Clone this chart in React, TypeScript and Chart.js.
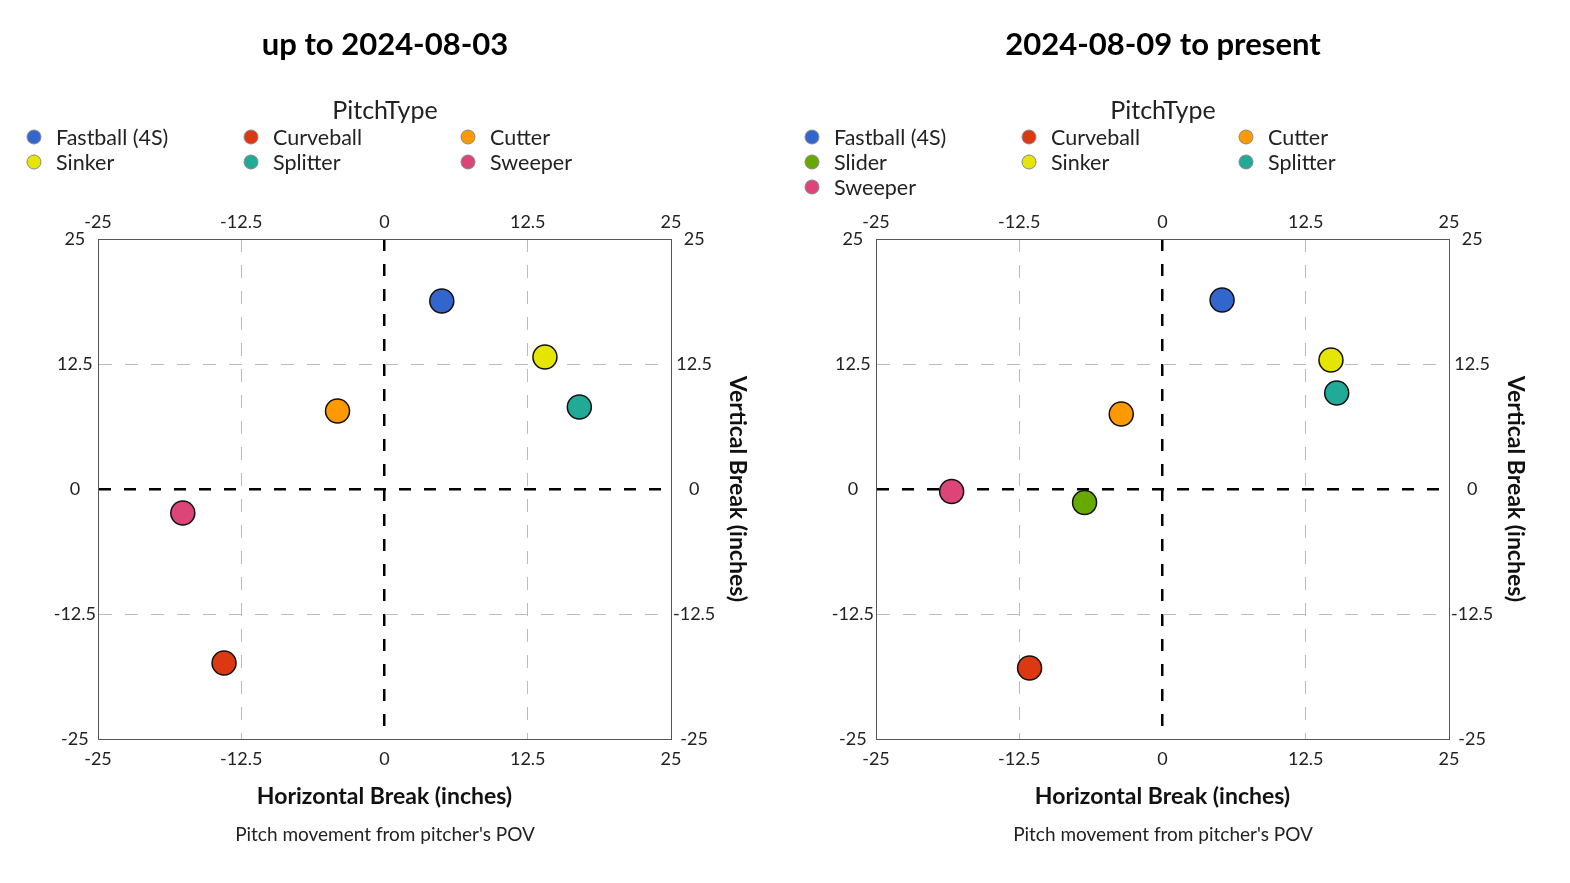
import React, { useEffect, useRef } from "react";
import { Chart, registerables } from "chart.js";
Chart.register(...registerables);

const FONT = "Lato, 'Open Sans', sans-serif";

const leftTitle = "up to 2024-08-03";
const leftTypes = ["Fastball (4S)", "Curveball", "Cutter", "Sinker", "Splitter", "Sweeper"];
const leftX = [5.0, -14.0, -4.1, 14.0, 17.0, -17.6];
const leftY = [18.8, -17.4, 7.8, 13.2, 8.2, -2.4];

const rightTitle = "2024-08-09 to present";
const rightTypes = ["Fastball (4S)", "Curveball", "Cutter", "Slider", "Sinker", "Splitter", "Sweeper"];
const rightX = [5.2, -11.6, -3.6, -6.8, 14.7, 15.2, -18.4];
const rightY = [18.9, -17.9, 7.5, -1.35, 12.9, 9.6, -0.25];

const axisTicks = [-25, -12.5, 0, 12.5, 25];
const xTitle = "Horizontal Break (inches)";
const yTitle = "Vertical Break (inches)";
const subTitle = "Pitch movement from pitcher's POV";
const legendTitle = "PitchType";

const typeColors: Record<string, string> = {
  "Fastball (4S)": "#3366CC",
  Curveball: "#DC3912",
  Cutter: "#FF9900",
  Slider: "#66AA00",
  Sinker: "#E5E500",
  Splitter: "#22AA99",
  Sweeper: "#DD4477",
};

const W = 770;
const H = 883;

function gridColor(ctx: any) {
  const v = ctx.tick ? ctx.tick.value : null;
  if (v === 0) return "#000000";
  if (v === -25 || v === 25) return "rgba(0,0,0,0)";
  return "#bbbbbb";
}
function gridWidth(ctx: any) {
  const v = ctx.tick ? ctx.tick.value : null;
  return v === 0 ? 2.5 : 1;
}
function gridDash(ctx: any) {
  if (!ctx.tick) return [];
  return ctx.tick.value === 0 ? [12, 13] : [13, 13];
}
function setTicks(scale: any) {
  scale.ticks = axisTicks.map((v) => ({ value: v }));
}

function makeLegendPlugin(types: string[]) {
  return {
    id: "gridLegend",
    afterDraw(chart: any) {
      const ctx = chart.ctx as CanvasRenderingContext2D;
      ctx.save();
      ctx.fillStyle = "#222";
      ctx.font = `25px ${FONT}`;
      ctx.textAlign = "center";
      ctx.textBaseline = "middle";
      ctx.fillText(legendTitle, chart.width / 2, 111);
      ctx.font = `21.5px ${FONT}`;
      ctx.textAlign = "left";
      types.forEach((t, i) => {
        const col = i % 3;
        const row = Math.floor(i / 3);
        const cx = 34 + 217 * col;
        const cy = 137 + 25 * row;
        ctx.beginPath();
        ctx.arc(cx, cy, 7, 0, Math.PI * 2);
        ctx.fillStyle = typeColors[t];
        ctx.fill();
        ctx.lineWidth = 1;
        ctx.strokeStyle = "#888";
        ctx.stroke();
        ctx.fillStyle = "#222";
        ctx.fillText(t, cx + 22, cy + 1);
      });
      ctx.restore();
    },
  };
}

function Panel({ title, types, xs, ys, left }: { title: string; types: string[]; xs: number[]; ys: number[]; left: number }) {
  const ref = useRef<HTMLCanvasElement | null>(null);
  useEffect(() => {
    if (!ref.current) return;
    const tickFont = { family: FONT, size: 18 };
    const chart = new Chart(ref.current, {
      type: "scatter",
      data: {
        datasets: types.map((t, i) => ({
          label: t,
          data: [{ x: xs[i], y: ys[i] }],
          backgroundColor: typeColors[t],
          borderColor: "#111",
          borderWidth: 1.5,
          pointRadius: 12,
          pointHoverRadius: 12,
        })),
      },
      options: {
        responsive: false,
        animation: false,
        events: [],
        layout: { padding: 0 },
        plugins: {
          legend: { display: false },
          tooltip: { enabled: false },
          title: {
            display: true,
            text: title,
            color: "#000",
            font: { family: FONT, size: 31, weight: "bold" },
            padding: { top: 26.4, bottom: 16.4 },
          },
          subtitle: {
            display: true,
            position: "bottom",
            text: subTitle,
            color: "#222",
            font: { family: FONT, size: 19 },
            padding: { top: 0, bottom: 36.6 },
          },
        },
        scales: {
          x: {
            type: "linear",
            position: "bottom",
            min: -25,
            max: 25,
            afterBuildTicks: setTicks,
            afterFit: (s: any) => { s.height = 84.6; },
            ticks: { font: tickFont, color: "#222", padding: 9 },
            grid: { drawTicks: false, color: gridColor, lineWidth: gridWidth },
            border: { color: "#555", width: 1, dash: gridDash },
            title: {
              display: true,
              text: xTitle,
              color: "#111",
              font: { family: FONT, size: 23, weight: "bold" },
              padding: { top: 0, bottom: 12.8 },
            },
          },
          x2: {
            type: "linear",
            position: "top",
            min: -25,
            max: 25,
            afterBuildTicks: setTicks,
            afterFit: (s: any) => { s.height = 159; },
            ticks: { font: tickFont, color: "#222", padding: 6 },
            grid: { display: false, drawTicks: false },
            border: { color: "#555", width: 1 },
          },
          y: {
            type: "linear",
            position: "left",
            min: -25,
            max: 25,
            afterBuildTicks: setTicks,
            afterFit: (s: any) => { s.width = 98; },
            ticks: { font: tickFont, color: "#222", padding: 2, crossAlign: "center" },
            grid: { drawTicks: false, color: gridColor, lineWidth: gridWidth },
            border: { color: "#555", width: 1, dash: gridDash },
          },
          y2: {
            type: "linear",
            position: "right",
            min: -25,
            max: 25,
            afterBuildTicks: setTicks,
            afterFit: (s: any) => { s.width = 99; },
            ticks: { font: tickFont, color: "#222", padding: 2, crossAlign: "center" },
            grid: { display: false, drawTicks: false },
            border: { color: "#555", width: 1 },
            title: {
              display: true,
              text: yTitle,
              color: "#111",
              font: { family: FONT, size: 23, weight: "bold" },
              padding: { top: 19.2, bottom: 0 },
            },
          },
        },
      } as any,
      plugins: [makeLegendPlugin(types)],
    });
    return () => chart.destroy();
  }, [title, types, xs, ys]);
  return (
    <canvas
      ref={ref}
      width={W}
      height={H}
      style={{ position: "absolute", left, top: 0, width: W, height: H, display: "block" }}
    />
  );
}

export default function App() {
  return (
    <div style={{ position: "absolute", left: 0, top: 0, width: 1570, height: 883, background: "#fff", overflow: "hidden" }}>
      <Panel title={leftTitle} types={leftTypes} xs={leftX} ys={leftY} left={0} />
      <Panel title={rightTitle} types={rightTypes} xs={rightX} ys={rightY} left={778} />
    </div>
  );
}
